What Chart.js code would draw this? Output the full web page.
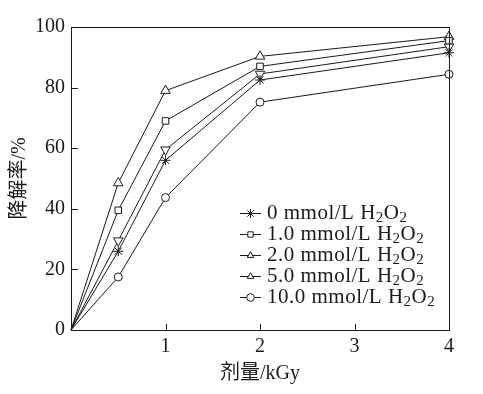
<!DOCTYPE html>
<html>
<head>
<meta charset="utf-8">
<script src="https://cdn.jsdelivr.net/npm/chart.js@4.4.1/dist/chart.umd.min.js"></script>
<style>
  html, body { margin: 0; padding: 0; background: #fff; }
  #wrap { width: 483px; height: 394px; }
</style>
</head>
<body>
<div id="wrap"><canvas id="chart" width="483" height="394"></canvas></div>
<script>
"use strict";

// dose values (kGy)
var doses = [0, 0.5, 1, 2, 4];

// degradation rate (%) per H2O2 concentration
var rate0 = [0, 26, 56, 82.5, 91.5];
var rate1 = [0, 39.5, 69, 87, 95.5];
var rate2 = [0, 29.5, 59.5, 84.5, 93.5];
var rate5 = [0, 48.5, 79, 90.3, 96.8];
var rate10 = [0, 17.5, 43.7, 75.2, 84.4];

var seriesNames = ["0", "1.0", "2.0", "5.0", "10.0"];
var xTicks = [1, 2, 3, 4];
var yTicks = [0, 20, 40, 60, 80, 100];

var INK = "#1a1a1a";
var SERIF = "'Liberation Serif', 'Times New Roman', 'Noto Sans CJK SC', serif";

function toPoints(values) {
	return values.map(function(v, i) { return { x: doses[i], y: v }; });
}

function makeSet(idx, values, style, rot, radius) {
	return {
		label: seriesNames[idx] + " mmol/L H2O2",
		data: toPoints(values),
		borderColor: INK,
		borderWidth: 1,
		backgroundColor: "#fff",
		pointStyle: style,
		pointRotation: rot,
		pointRadius: [0, radius, radius, radius, radius],
		pointBorderColor: INK,
		pointBackgroundColor: "#fff",
		pointBorderWidth: 1,
		tension: 0,
		clip: false
	};
}

var datasets = [
	makeSet(0, rate0, "star", 0, 5),
	makeSet(1, rate1, "rect", 0, 4.6),
	makeSet(2, rate2, "triangle", 180, 5.5),
	makeSet(3, rate5, "triangle", 0, 5.5),
	makeSet(4, rate10, "circle", 0, 4)
];

// frame, inward ticks and legend
var framePlugin = {
	id: "frame",
	afterDraw: function(chart) {
		var ctx = chart.ctx, a = chart.chartArea;
		var xs = chart.scales.x, ys = chart.scales.y;
		ctx.save();
		ctx.strokeStyle = INK;
		ctx.lineWidth = 1;
		ctx.strokeRect(Math.round(a.left) + 0.5, Math.round(a.top) + 0.5,
			Math.round(a.right - a.left), Math.round(a.bottom - a.top));
		ctx.beginPath();
		xTicks.forEach(function(t) {
			var px = Math.round(xs.getPixelForValue(t)) + 0.5;
			ctx.moveTo(px, a.bottom);
			ctx.lineTo(px, a.bottom - 6);
		});
		yTicks.forEach(function(t) {
			var py = Math.round(ys.getPixelForValue(t)) + 0.5;
			ctx.moveTo(a.left, py);
			ctx.lineTo(a.left + 7, py);
		});
		ctx.stroke();

		// legend
		var lx = a.left + 169, ly = a.top + 186, rowH = 21;
		chart.data.datasets.forEach(function(ds, i) {
			var y = Math.round(ly + i * rowH) + 0.5;
			ctx.beginPath();
			ctx.moveTo(lx, y);
			ctx.lineTo(lx + 21, y);
			ctx.strokeStyle = INK;
			ctx.lineWidth = 1;
			ctx.stroke();
			ctx.fillStyle = "#fff";
			Chart.helpers.drawPoint(ctx, {
				pointStyle: ds.pointStyle,
				rotation: 0,
				radius: ds.pointStyle === "star" ? 4.5 : 3.8,
				borderWidth: 1
			}, lx + 10.5, y);

			var tx = lx + 27;
			ctx.fillStyle = INK;
			ctx.textBaseline = "middle";
			ctx.textAlign = "left";
			ctx.letterSpacing = "0.5px";
			var big = "21px " + SERIF, small = "15px " + SERIF;
			var parts = [[seriesNames[i] + " mmol/L H", big, 0], ["2", small, 5], ["O", big, 0], ["2", small, 5]];
			parts.forEach(function(p) {
				ctx.font = p[1];
				ctx.fillText(p[0], tx, y + p[2]);
				tx += ctx.measureText(p[0]).width;
			});
		});
		ctx.restore();
	}
};

new Chart(document.getElementById("chart").getContext("2d"), {
	type: "line",
	data: { datasets: datasets },
	options: {
		responsive: false,
		animation: false,
		layout: { padding: { left: 0, top: 27, right: 34, bottom: 0 } },
		plugins: {
			legend: { display: false },
			tooltip: { enabled: false }
		},
		scales: {
			x: {
				type: "linear",
				min: 0,
				max: 4,
				afterBuildTicks: function(scale) {
					scale.ticks = xTicks.map(function(v) { return { value: v }; });
				},
				afterFit: function(scale) { scale.height = 64; },
				grid: { display: false, drawTicks: false },
				border: { display: false },
				ticks: { color: INK, padding: 5, font: { family: SERIF, size: 20 } },
				title: {
					display: true,
					text: "剂量/kGy",
					color: INK,
					padding: { top: 0, bottom: 8 },
					font: { family: SERIF, size: 20 }
				}
			},
			y: {
				min: 0,
				max: 100,
				afterBuildTicks: function(scale) {
					scale.ticks = yTicks.map(function(v) { return { value: v }; });
				},
				afterFit: function(scale) { scale.width = 71; },
				grid: { display: false, drawTicks: false },
				border: { display: false },
				ticks: { color: INK, padding: 6, font: { family: SERIF, size: 20 } },
				title: {
					display: true,
					text: "降解率/%",
					color: INK,
					padding: { top: 8, bottom: 0 },
					font: { family: SERIF, size: 20 }
				}
			}
		}
	},
	plugins: [framePlugin]
});
</script>
</body>
</html>
